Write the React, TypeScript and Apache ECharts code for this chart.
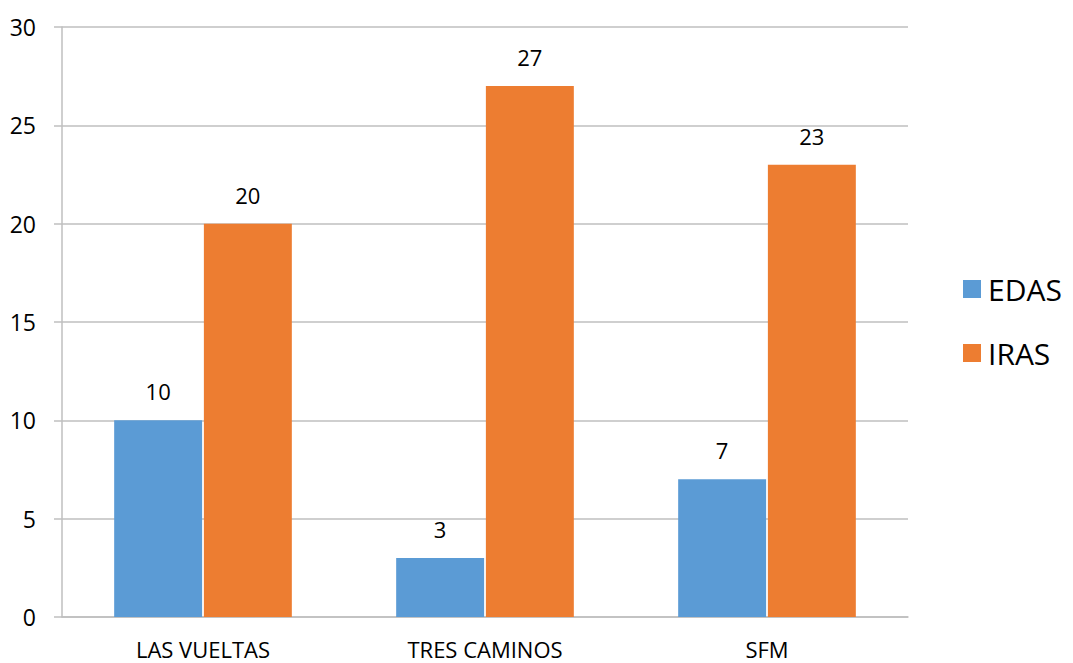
import React, { useEffect, useRef } from "react";
import * as echarts from "echarts";

const categories = ["LAS VUELTAS", "TRES CAMINOS", "SFM"];
const edasValues = [10, 3, 7];
const irasValues = [20, 27, 23];
const seriesNames = ["EDAS", "IRAS"];

const FONT = "'Open Sans', 'Liberation Sans', sans-serif";

export default function App() {
  const ref = useRef<HTMLDivElement>(null);
  useEffect(() => {
    if (!ref.current) return;
    const chart = echarts.init(ref.current, undefined, { renderer: "svg" });
    const labelStyle = {
      show: true,
      position: "top" as const,
      distance: 18,
      color: "#000",
      fontSize: 22,
      fontFamily: FONT,
    };
    chart.setOption({
      animation: false,
      backgroundColor: "#fff",
      grid: { left: 62, right: 165, top: 27, bottom: 46, containLabel: false },
      legend: {
        orient: "vertical",
        left: 958,
        top: 269,
        itemWidth: 18,
        itemHeight: 18,
        itemGap: 34,
        icon: "rect",
        data: seriesNames,
        textStyle: { fontSize: 30, fontFamily: FONT, color: "#000", lineHeight: 30, padding: [0, 0, 0, 2] },
      },
      xAxis: {
        type: "category",
        data: categories,
        axisLine: { show: true, lineStyle: { color: "#BFBFBF", width: 1.5 } },
        axisTick: { show: false },
        axisLabel: { color: "#000", fontSize: 22, lineHeight: 22, fontFamily: FONT, margin: 21 },
      },
      yAxis: {
        type: "value",
        min: 0,
        max: 30,
        interval: 5,
        axisLine: { show: true, lineStyle: { color: "#BFBFBF", width: 1.5 } },
        axisTick: { show: true, length: 8, lineStyle: { color: "#BFBFBF", width: 1.5 } },
        axisLabel: { color: "#000", fontSize: 23, fontFamily: FONT, margin: 26 },
        splitLine: { show: true, lineStyle: { color: "#BFBFBF", width: 1.5 } },
      },
      series: [
        {
          name: seriesNames[0],
          type: "bar",
          data: edasValues,
          barGap: "2%",
          barCategoryGap: "37%",
          itemStyle: { color: "#5B9BD5" },
          label: labelStyle,
        },
        {
          name: seriesNames[1],
          type: "bar",
          data: irasValues,
          barGap: "2%",
          barCategoryGap: "37%",
          itemStyle: { color: "#ED7D31" },
          label: labelStyle,
        },
      ],
    });
    return () => chart.dispose();
  }, []);
  return <div ref={ref} style={{ width: 1073, height: 663, position: "absolute", left: 0, top: 0 }} />;
}
